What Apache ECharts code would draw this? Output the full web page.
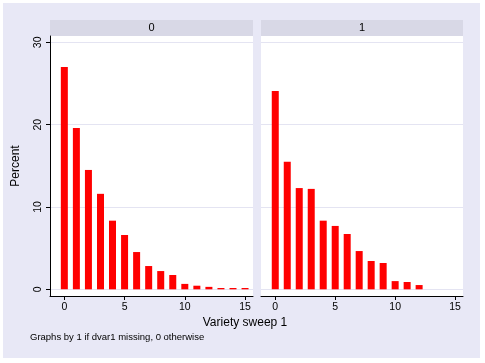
<!DOCTYPE html>
<html><head><meta charset="utf-8">
<script src="https://cdn.jsdelivr.net/npm/echarts@6/dist/echarts.min.js"></script>
<style>html,body{margin:0;padding:0;background:#fff}#c{width:485px;height:363px}</style>
</head><body><div id="c"></div>
<script>
const panels = ['0', '1'];
const sweepValues = [0,1,2,3,4,5,6,7,8,9,10,11,12,13,14,15];
const percent0 = [27.0,19.6,14.5,11.6,8.34,6.6,4.53,2.83,2.22,1.74,0.66,0.44,0.3,0.16,0.16,0.16];
const percent1 = [24.1,15.5,12.3,12.2,8.34,7.7,6.72,4.65,3.44,3.2,1.0,0.89,0.52];
const xTicks = [0,5,10,15];
const yTicks = [0,10,20,30];

const FONT = 'Liberation Sans, Arial, sans-serif';
const chart = echarts.init(document.getElementById('c'), null, {renderer:'canvas'});
const pairs = arr => arr.map((v,i)=>[sweepValues[i], v]);
const grids = [
  {left:50, top:36, width:203, height:260},
  {left:261, top:36, width:202, height:260}
];
const xAxes = grids.map((g,i)=>({
  type:'value', gridIndex:i, min:-1.19, max:15.66,
  axisLine:{show:true, onZero:false, lineStyle:{color:'#000', width:1}},
  axisTick:{show:true, length:4, customValues:xTicks, lineStyle:{color:'#000'}},
  axisLabel:{show:true, customValues:xTicks, color:'#000', fontSize:10.5, fontFamily:FONT, margin:6},
  splitLine:{show:false}
}));
const yAxes = grids.map((g,i)=>({
  type:'value', gridIndex:i, min:-0.81, max:30.77,
  name: i===0 ? 'Percent' : '', nameLocation:'middle', nameGap:28,
  nameTextStyle:{color:'#000', fontSize:12, fontFamily:FONT},
  axisLine:{show:i===0, onZero:false, lineStyle:{color:'#000', width:1}},
  axisTick:{show:i===0, length:4, customValues:yTicks, lineStyle:{color:'#000'}},
  axisLabel:{show:i===0, customValues:yTicks, rotate:90, color:'#000', fontSize:10.5, fontFamily:FONT, margin:6},
  splitLine:{show:true, lineStyle:{color:'#e4e4f2', width:1}}
}));
const option = {
  animation:false,
  backgroundColor:'#ffffff',
  graphic:[
    {type:'rect', shape:{x:3,y:3,width:477,height:355}, style:{fill:'#e8e8f6'}, z:-10},
    {type:'rect', shape:{x:50,y:36,width:203,height:260}, style:{fill:'#ffffff'}, z:-9},
    {type:'rect', shape:{x:261,y:36,width:202,height:260}, style:{fill:'#ffffff'}, z:-9},
    {type:'rect', shape:{x:50,y:20,width:203,height:16}, style:{fill:'#d8d8e6'}, z:-9},
    {type:'rect', shape:{x:261,y:20,width:202,height:16}, style:{fill:'#d8d8e6'}, z:-9},
    {type:'text', x:151.5, y:28, style:{text:panels[0], fill:'#000', font:'11px '+FONT, align:'center', verticalAlign:'middle'}},
    {type:'text', x:362, y:28, style:{text:panels[1], fill:'#000', font:'11px '+FONT, align:'center', verticalAlign:'middle'}},
    {type:'text', x:245, y:323, style:{text:'Variety sweep 1', fill:'#000', font:'12px '+FONT, align:'center', verticalAlign:'middle'}},
    {type:'text', x:30, y:337, style:{text:'Graphs by 1 if dvar1 missing, 0 otherwise', fill:'#000', font:'9.5px '+FONT, align:'left', verticalAlign:'middle'}}
  ],
  grid:grids,
  xAxis:xAxes,
  yAxis:yAxes,
  series:[
    {type:'bar', xAxisIndex:0, yAxisIndex:0, data:pairs(percent0), barWidth:7, itemStyle:{color:'#ff0000'}},
    {type:'bar', xAxisIndex:1, yAxisIndex:1, data:pairs(percent1), barWidth:7, itemStyle:{color:'#ff0000'}}
  ]
};
chart.setOption(option);
</script></body></html>
